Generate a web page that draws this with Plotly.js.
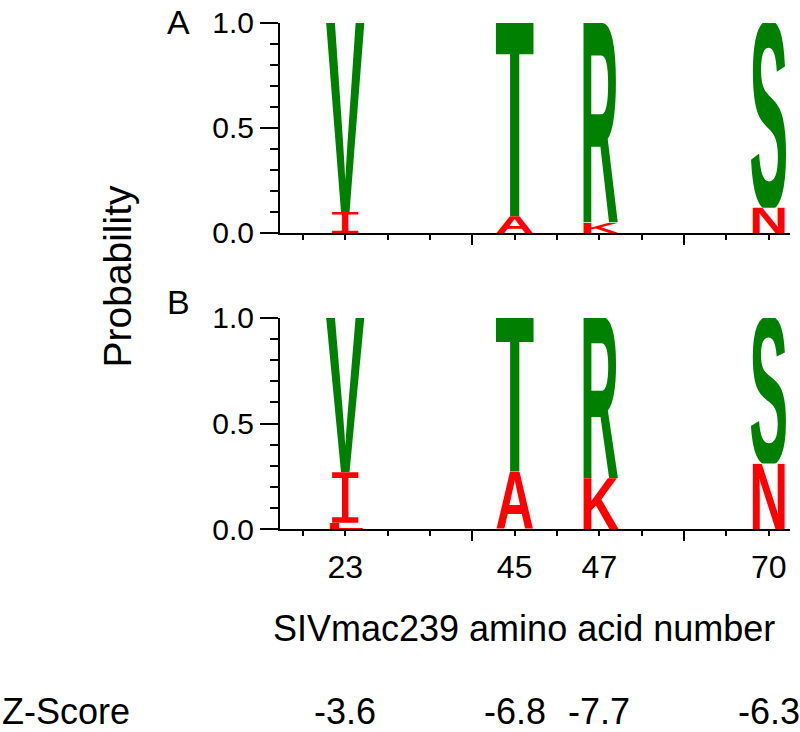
<!DOCTYPE html>
<html>
<head>
<meta charset="utf-8">
<script src="https://cdn.plot.ly/plotly-3.0.1.min.js"></script>
<style>body{margin:0;background:#fff}</style>
</head>
<body>
<div id="plotArea" style="width:800px;height:732px"></div>
<script>
// residue positions and the logo column each one sits in
var positions = ["23", "45", "47", "70"];
var columns = [1, 5, 7, 11];
var consensus = ["V", "T", "R", "S"];
var variants = ["I", "A", "K", "N"];
var others = ["L", "", "", ""];

// probabilities (variant at the bottom of each stack)
var variantProbA = [0.10, 0.08, 0.05, 0.12];
var otherProbA = [0, 0, 0, 0];
var variantProbB = [0.24, 0.27, 0.24, 0.31];
var otherProbB = [0.03, 0, 0, 0];

var zScores = ["-3.6", "-6.8", "-7.7", "-6.3"];

var green = "#008000";
var red = "#ff0000";
var font = "Liberation Sans, Arial, sans-serif";

// one stretched letter as an svg picture; cap height per font so the glyph fills the box
function glyph(ch, color) {
    var fam = "Liberation Sans", cap = 68.8, weight = "bold";
    if (ch === "I") { fam = "DejaVu Sans Mono"; cap = 72.9; weight = "normal"; }
    var svg = '<svg xmlns="http://www.w3.org/2000/svg" width="100" height="' + cap + '" viewBox="0 -' + cap + ' 100 ' + cap + '" preserveAspectRatio="none">' +
        '<text x="0" y="0" font-family="' + fam + '" font-weight="' + weight + '" font-size="100" ' +
        'textLength="100" lengthAdjust="spacingAndGlyphs" fill="' + color + '">' + ch + '</text></svg>';
    return "data:image/svg+xml;charset=utf-8," + encodeURIComponent(svg);
}

var images = [];
function stack(xref, yref, otherProb, variantProb) {
    columns.forEach(function(col, i) {
        var base = 0;
        var parts = [
            [others[i], otherProb[i], red],
            [variants[i], variantProb[i], red],
            [consensus[i], 1 - otherProb[i] - variantProb[i], green]
        ];
        parts.forEach(function(p) {
            if (p[1] > 0 && p[0]) {
                images.push({
                    source: glyph(p[0], p[2]),
                    xref: xref, yref: yref,
                    x: col, y: base,
                    sizex: 0.92, sizey: p[1],
                    xanchor: "center", yanchor: "bottom",
                    sizing: "stretch", layer: "above"
                });
            }
            base += p[1];
        });
    });
}
stack("x2", "y2", otherProbA, variantProbA);
stack("x", "y", otherProbB, variantProbB);

var allTicks = [0, 1, 2, 3, 5, 6, 7, 8, 10, 11];
var tickText = allTicks.map(function(t) {
    var k = columns.indexOf(t);
    return k >= 0 ? positions[k] : "";
});

var traces = [
    {x: columns, y: [0, 0, 0, 0], xaxis: "x", yaxis: "y", mode: "markers",
     marker: {opacity: 0}, hoverinfo: "skip", showlegend: false},
    {x: columns, y: [0, 0, 0, 0], xaxis: "x2", yaxis: "y2", mode: "markers",
     marker: {opacity: 0}, hoverinfo: "skip", showlegend: false}
];

function xAxis(anchor, labels) {
    return {
        domain: [0.35, 0.9875], range: [-0.54, 11.5], anchor: anchor,
        tickmode: "array", tickvals: allTicks, ticktext: tickText,
        showticklabels: labels, ticklabelstandoff: 4,
        ticks: "outside", ticklen: 5, tickwidth: 2, tickcolor: "#000",
        minor: {tickmode: "array", tickvals: [4, 9], ticks: "outside", ticklen: 10, tickwidth: 2, tickcolor: "#000"},
        showline: true, linewidth: 2, linecolor: "#000",
        showgrid: false, zeroline: false, fixedrange: true,
        tickfont: {family: font, size: 32, color: "#000"}
    };
}
function yAxis(anchor, domain) {
    return {
        domain: domain, range: [0, 1], anchor: anchor,
        tickmode: "array", tickvals: [0, 0.5, 1], ticktext: ["0.0", "0.5", "1.0"],
        ticks: "outside", ticklen: 18, tickwidth: 2, tickcolor: "#000",
        minor: {tickmode: "linear", tick0: 0, dtick: 0.1, ticks: "outside", ticklen: 8, tickwidth: 2, tickcolor: "#000"},
        showline: true, linewidth: 2, linecolor: "#000",
        showgrid: false, zeroline: false, fixedrange: true,
        tickfont: {family: font, size: 30, color: "#000"}
    };
}

function label(text, x, y, size, extra) {
    var a = {text: text, xref: "paper", yref: "paper", x: x, y: y,
        xanchor: "center", yanchor: "middle", showarrow: false,
        font: {family: font, size: size, color: "#000"}};
    for (var k in extra) a[k] = extra[k];
    return a;
}

var annotations = [
    label("A", 0.2225, 0.970, 34),
    label("B", 0.2225, 0.588, 34),
    label("Probability", 0.147, 0.623, 39, {textangle: -90}),
    label("SIVmac239 amino acid number", 0.655, 0.142, 36),
    label("Z-Score", 0, 0.028, 36, {xanchor: "left"})
];
columns.forEach(function(col, i) {
    annotations.push({text: zScores[i], xref: "x", yref: "paper", x: col, y: 0.028,
        xanchor: "center", yanchor: "middle",
        showarrow: false, font: {family: font, size: 36, color: "#000"}});
});

var layout = {
    width: 800, height: 732,
    margin: {l: 0, r: 0, t: 0, b: 0},
    paper_bgcolor: "#fff", plot_bgcolor: "#fff",
    showlegend: false,
    xaxis: xAxis("y", true),
    yaxis: yAxis("x", [0.2773, 0.5656]),
    xaxis2: xAxis("y2", false),
    yaxis2: yAxis("x2", [0.6817, 0.9686]),
    images: images,
    annotations: annotations
};

Plotly.newPlot("plotArea", traces, layout, {staticPlot: true});
</script>
</body>
</html>
